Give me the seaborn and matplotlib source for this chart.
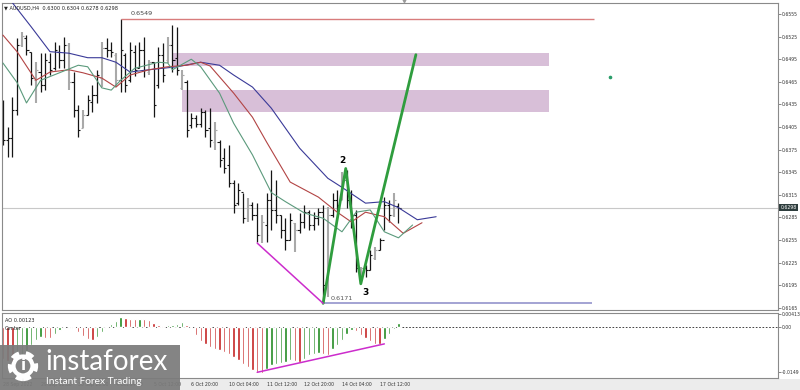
import numpy as np
import matplotlib
matplotlib.use("Agg")
import matplotlib.pyplot as plt
import seaborn as sns
from matplotlib.patches import Rectangle, Circle

sns.set_theme(style="white")
plt.rcParams['font.family'] = ['DejaVu Sans']

# ---------------- data ----------------
chart_title = "\u25bc AUDUSD,H4  0.6300 0.6304 0.6278 0.6298"

bar_high = [.6441, .6405, .6445, .6523, .6531, .6527, .6505, .6491, .6503, .6503,
            .6503, .6518, .6514, .6525, .6517, .6478, .6434, .6428, .6448, .6461,
            .6481, .6518, .6523, .6518, .6503, .6549, .6503, .6518, .6514, .6518,
            .6525, .6494, .6491, .6511, .6517, .6525, .6540, .6538, .6481, .6467,
            .6424, .6421, .6430, .6428, .6430, .6412, .6388, .6377, .6381, .6335,
            .6331, .6318, .6311, .6306, .6304, .6288, .6318, .6348, .6335, .6288,
            .6284, .6291, .6278, .6291, .6302, .6295, .6292, .6298, .6302, .6299,
            .6318, .6321, .6345, .6348, .6321, .6295, .6219, .6222, .6242, .6246,
            .6258, .6312, .6308, .6318, .6304]
bar_low = [.6381, .6365, .6365, .6421, .6511, .6501, .6461, .6437, .6452, .6454,
           .6474, .6481, .6483, .6483, .6454, .6418, .6392, .6404, .6421, .6425,
           .6437, .6458, .6498, .6498, .6458, .6452, .6452, .6465, .6473, .6483,
           .6471, .6474, .6418, .6457, .6465, .6490, .6478, .6474, .6454, .6392,
           .6404, .6405, .6405, .6392, .6379, .6375, .6352, .6344, .6325, .6291,
           .6302, .6278, .6279, .6282, .6252, .6251, .6252, .6268, .6278, .6258,
           .6242, .6255, .6239, .6264, .6271, .6268, .6268, .6275, .6171, .6179,
           .6286, .6292, .6308, .6298, .6271, .6213, .6205, .6206, .6215, .6229,
           .6242, .6268, .6279, .6286, .6278]
bar_open = [.6408, .6388, .6390, .6428, .6514, .6523, .6505, .6467, .6478, .6461,
            .6491, .6483, .6505, .6494, .6514, .6465, .6428, .6404, .6421, .6438,
            .6448, .6470, .6510, .6507, .6501, .6467, .6501, .6467, .6505, .6483,
            .6507, .6478, .6491, .6461, .6501, .6494, .6514, .6497, .6457, .6465,
            .6408, .6417, .6409, .6425, .6404, .6385, .6385, .6364, .6355, .6331,
            .6304, .6319, .6284, .6302, .6288, .6262, .6275, .6308, .6295, .6288,
            .6268, .6255, .6278, .6268, .6279, .6292, .6275, .6284, .6292, .6195,
            .6288, .6308, .6308, .6335, .6308, .6288, .6209, .6218, .6215, .6231,
            .6242, .6255, .6302, .6288, .6300]
bar_close = [.6388, .6390, .6428, .6514, .6526, .6507, .6470, .6481, .6461, .6494,
             .6481, .6507, .6494, .6514, .6465, .6428, .6401, .6421, .6441, .6448,
             .6474, .6510, .6507, .6505, .6467, .6507, .6461, .6507, .6481, .6507,
             .6481, .6491, .6434, .6501, .6474, .6514, .6494, .6481, .6474, .6401,
             .6417, .6409, .6425, .6401, .6388, .6401, .6361, .6351, .6331, .6302,
             .6321, .6284, .6302, .6288, .6262, .6279, .6308, .6295, .6288, .6268,
             .6255, .6282, .6268, .6279, .6292, .6275, .6284, .6292, .6195, .6288,
             .6308, .6302, .6335, .6308, .6288, .6218, .6218, .6215, .6235, .6242,
             .6255, .6302, .6288, .6308, .6298]
light_bars = [4, 7, 14, 17, 21, 24, 31, 35, 38, 45, 52, 55, 62, 69, 72, 76, 79, 83]

jaw_idx = [0, 2, 6, 10, 14, 18, 21, 24, 27, 31, 37, 42, 46, 49, 53, 57, 63, 69, 72, 77, 81, 84, 88, 92]
jaw_val = [.6576, .6570, .6538, .6505, .6503, .6497, .6497, .6491, .6478, .6481, .6485, .6491,
           .6487, .6474, .6458, .6430, .6377, .6337, .6325, .6304, .6306, .6298, .6282, .6286]
teeth_idx = [0, 3, 7, 10, 14, 17, 21, 24, 27, 31, 35, 39, 42, 44, 49, 53, 56, 61, 67, 71, 74, 77, 81, 85, 89]
teeth_val = [.6527, .6505, .6467, .6478, .6481, .6477, .6470, .6458, .6474, .6481, .6485, .6487,
             .6491, .6486, .6450, .6418, .6385, .6332, .6312, .6292, .6279, .6292, .6286, .6264, .6278]
lips_idx = [0, 3, 5, 8, 12, 16, 18, 21, 23, 25, 28, 33, 35, 36, 40, 42, 46, 49, 53, 57, 60, 64,
            68, 72, 75, 78, 81, 84, 87]
lips_val = [.6490, .6464, .6437, .6467, .6477, .6487, .6485, .6457, .6454, .6467, .6483, .6491,
            .6490, .6481, .6495, .6485, .6450, .6410, .6368, .6318, .6306, .6291, .6284, .6266,
            .6292, .6295, .6266, .6258, .6275]

ao_values = [-0.0105, -0.0112, -0.0118, -0.0112, -0.0100, -0.0085, -0.0060, -0.0042, -0.0032, -0.0035,
             -0.0037, -0.0024, -0.0011, -0.0005, -0.0002, -0.0005, -0.0016, -0.0031, -0.0040, -0.0044,
             -0.0033, -0.0017, -0.0003, 0.0011, 0.0020, 0.0033, 0.0030, 0.0027, 0.0026, 0.0027,
             0.0026, 0.0024, 0.0013, 0.0007, 0.0003, 0.0005, 0.0008, 0.0011, 0.0016, 0.0008,
             -0.0004, -0.0025, -0.0048, -0.0058, -0.0065, -0.0072, -0.0076, -0.0083, -0.0089, -0.0099,
             -0.0109, -0.0121, -0.0132, -0.0142, -0.0150, -0.0153, -0.0139, -0.0127, -0.0122, -0.0120,
             -0.0116, -0.0109, -0.0112, -0.0116, -0.0106, -0.0094, -0.0089, -0.0085, -0.0088, -0.0092,
             -0.0073, -0.0060, -0.0043, -0.0023, -0.0010, -0.0014, -0.0025, -0.0038, -0.0048, -0.0055,
             -0.0058, -0.0040, -0.0023, -0.0008, 0.0014]
ao_label = "AO 0.00123"

date_label_idx = [0, 8, 16, 24, 32, 40, 48, 56, 64, 72, 80]
date_labels = ["28 Sep 2022", "29 Sep 12:00", "30 Sep 20:00", "4 Oct 04:00", "5 Oct 12:00",
               "6 Oct 20:00", "10 Oct 04:00", "11 Oct 12:00", "12 Oct 20:00", "14 Oct 04:00",
               "17 Oct 12:00"]
price_ticks = [0.6555, 0.6525, 0.6495, 0.6465, 0.6435, 0.6405, 0.6375, 0.6345, 0.6315,
               0.6285, 0.6255, 0.6225, 0.6195, 0.6165]
ao_ticks = [0.00413, 0.0, -0.0149]
ao_tick_labels = ["0.00413", "0.00", "-0.0149"]

level_high = 0.6549
level_high_span = [25, 125.5]
level_low = 0.6171
level_low_span = [68, 125]
zone_upper = [0.6486, 0.6503]
zone_upper_span = [36, 116]
zone_lower = [0.6425, 0.6454]
zone_lower_span = [38, 116]
wave_idx = [68, 72.8, 76, 87.7]
wave_val = [0.6171, 0.6350, 0.6197, 0.6501]
div_price_idx = [54, 68]
div_price_val = [0.6251, 0.6171]
div_ao_idx = [54, 81]
div_ao_val = [-0.0150, -0.0056]
current_price = 0.6298
marker_point = [129, 0.6471]

# ---------------- figure ----------------
W, H = 800, 390
fig = plt.figure(figsize=(8, 3.9), dpi=100)
fig.patch.set_facecolor("white")
ax = fig.add_axes([0.0019, 0.2051, 0.9706, 0.7872])
ax2 = fig.add_axes([0.0019, 0.0308, 0.9706, 0.1667])

# bottom light strip
fig.add_artist(Rectangle((0, 0), 1, 11 / H, transform=fig.transFigure,
                         facecolor="#ececec", edgecolor="none", zorder=-5))

n = len(bar_high)
idx = np.arange(n)
bar_cols = ["#a9a9a9" if i in light_bars else "#151515" for i in idx]
bar_lws = [1.5 if i in light_bars else 0.9 for i in idx]

# zones
for (lo, hi), (a, b) in [(zone_upper, zone_upper_span), (zone_lower, zone_lower_span)]:
    ax.add_patch(Rectangle((a, lo), b - a, hi - lo, facecolor="#d8bfd8", edgecolor="none", zorder=0.5))

ax.axhline(current_price, color="#c8c8c8", lw=0.8, zorder=0.6)

ax.vlines(idx, bar_low, bar_high, colors=bar_cols, linewidths=bar_lws, zorder=2)
ax.hlines(bar_open, idx - 0.45, idx, colors=bar_cols, linewidths=0.8, zorder=2)
ax.hlines(bar_close, idx, idx + 0.45, colors=bar_cols, linewidths=0.8, zorder=2)

sns.lineplot(x=jaw_idx, y=jaw_val, ax=ax, color="#3a3a98", lw=0.8, sort=False, estimator=None, zorder=3)
sns.lineplot(x=teeth_idx, y=teeth_val, ax=ax, color="#b24444", lw=0.8, sort=False, estimator=None, zorder=3)
sns.lineplot(x=lips_idx, y=lips_val, ax=ax, color="#5b9a7c", lw=0.8, sort=False, estimator=None, zorder=3)

ax.hlines(level_high, level_high_span[0], level_high_span[1], color="#d87c7c", lw=1.0, zorder=2.5)
ax.hlines(level_low, level_low_span[0], level_low_span[1], color="#9c9cd0", lw=1.3, zorder=2.5)

sns.lineplot(x=wave_idx, y=wave_val, ax=ax, color="#2f9d3e", lw=2.0, sort=False, estimator=None, zorder=4)
ax.plot(div_price_idx, div_price_val, color="#cc2ccc", lw=1.1, zorder=4)
ax.plot([marker_point[0]], [marker_point[1]], "o", color="#2a9d6a", ms=1.6, zorder=4)

ax.text(27.2, level_high + 0.0004, f"{level_high:.4f}", fontsize=4.6, color="#444444", va="bottom", ha="left")
ax.text(69.6, level_low + 0.0003, f"{level_low:.4f}", fontsize=4.6, color="#555555", va="bottom", ha="left")
ax.text(72.1, wave_val[1] + 0.0005, "2", fontsize=6.5, fontweight="bold", color="black", ha="center", va="bottom")
ax.text(76.9, wave_val[2] - 0.0006, "3", fontsize=6.5, fontweight="bold", color="black", ha="center", va="top")

fig.text(4 / W, 1 - 7.5 / H, chart_title, fontsize=3.6, color="#222222", va="center", ha="left")
ax.plot([85.1], [0.6573], marker="v", color="#9a9a9a", ms=3, clip_on=False)

# axis styling (main)
xlim = (-0.3, 164.6)
ax.set_xlim(*xlim)
ax.set_ylim(0.61622, 0.65696)
ax.set_xticks([])
ax.yaxis.tick_right()
ax.set_yticks(price_ticks)
ax.set_yticklabels([f"{p:.4f}" for p in price_ticks], fontsize=3.3, color="#333333")
ax.tick_params(axis="y", length=2, width=0.5, pad=1, colors="#555555", labelcolor="#333333")
for s in ax.spines.values():
    s.set_color("#8a8a8a")
    s.set_linewidth(0.8)
ax.set_xlabel("")
ax.set_ylabel("")
ax.text(1.003, current_price, f"{current_price:.4f}", transform=ax.get_yaxis_transform(),
        fontsize=3.3, color="white", va="center", ha="left",
        bbox=dict(boxstyle="square,pad=0.25", facecolor="#2e3d3d", edgecolor="none"))

# ---------------- AO panel ----------------
ao_cols = ["#c42020"] + ["#1f8a1f" if ao_values[i] > ao_values[i - 1] else "#c42020" for i in range(1, n)]
ax2.bar(idx, ao_values, width=0.5, color=ao_cols, zorder=2)
ax2.axhline(0, color="#222222", lw=0.6, ls=(0, (2, 2)), zorder=1)
ax2.plot(div_ao_idx, div_ao_val, color="#cc2ccc", lw=1.1, zorder=3)
ax2.set_xlim(*xlim)
ax2.set_ylim(-0.01688, 0.00463)
ax2.yaxis.tick_right()
ax2.set_yticks(ao_ticks)
ax2.set_yticklabels(ao_tick_labels, fontsize=3.3, color="#333333")
ax2.set_xticks(date_label_idx)
ax2.set_xticklabels(date_labels, fontsize=3.3, color="#333333", ha="left")
ax2.tick_params(axis="both", length=2, width=0.5, pad=1, colors="#555555", labelcolor="#333333")
for s in ax2.spines.values():
    s.set_color("#8a8a8a")
    s.set_linewidth(0.8)
ax2.text(0.004, 0.93, ao_label, transform=ax2.transAxes, fontsize=3.6, color="#222222", va="top")
ax2.text(0.004, 0.80, "Center", transform=ax2.transAxes, fontsize=3.6, color="#222222", va="top")

# ---------------- watermark ----------------
fig.add_artist(Rectangle((0, 0), 180 / W, 45 / H, transform=fig.transFigure,
                         facecolor="#7b7b7b", edgecolor="none", alpha=0.93, zorder=10))
cx, cy = 23 / W, 1 - 366 / H
fig.add_artist(Circle((23, 24), 12, transform=None, facecolor="none", edgecolor="white",
                      lw=0, zorder=11))
from matplotlib.transforms import Affine2D
pix = fig.dpi_scale_trans + Affine2D()
gear_outer = Circle((23 / 100, 24 / 100), 0.12, transform=fig.dpi_scale_trans, facecolor="none",
                    edgecolor="white", lw=4.5, ls=(0, (1.2, 1.0)), zorder=11)
gear_ring = Circle((23 / 100, 24 / 100), 0.095, transform=fig.dpi_scale_trans, facecolor="none",
                   edgecolor="white", lw=3, zorder=11)
fig.add_artist(gear_outer)
fig.add_artist(gear_ring)
fig.text(23 / W, 24 / H, "i", fontsize=11, color="white", fontweight="bold", ha="center", va="center", zorder=12)
fig.text(45 / W, 1 - 362 / H, "instaforex", fontsize=20, color="white", family=["Lato", "DejaVu Sans"],
         ha="left", va="center", zorder=12)
fig.text(46 / W, 1 - 382 / H, "Instant Forex Trading", fontsize=7.3, color="white",
         family=["Lato", "DejaVu Sans"], ha="left", va="center", zorder=12)

fig.savefig("out.png", dpi=100, facecolor=fig.get_facecolor())
